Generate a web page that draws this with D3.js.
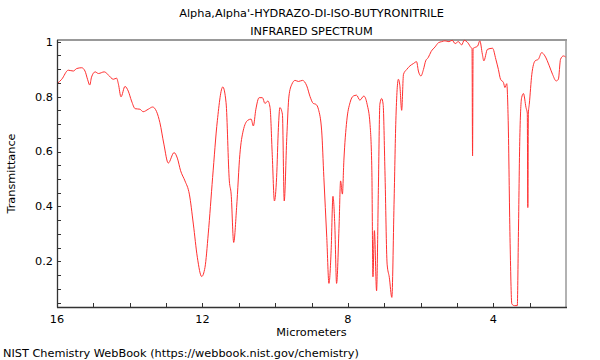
<!DOCTYPE html>
<html>
<head>
<meta charset="utf-8">
<script src="https://cdn.jsdelivr.net/npm/d3@7"></script>
<style>
  html, body { margin: 0; padding: 0; background: #fff; }
  svg { display: block; }
  text { font-family: "DejaVu Sans", sans-serif; fill: #000; }
</style>
</head>
<body>
<svg id="chart" width="600" height="360"></svg>
<script>
const titleLines = ["Alpha,Alpha'-HYDRAZO-DI-ISO-BUTYRONITRILE", "INFRARED SPECTRUM"];
const xLabel = "Micrometers";
const yLabel = "Transmittance";
const footer = "NIST Chemistry WebBook (https://webbook.nist.gov/chemistry)";

const xMajorTicks = [16, 12, 8, 4];
const xMinorTicks = [15, 14, 13, 11, 10, 9, 7, 6, 5, 3];
const yMajorTicks = [0.2, 0.4, 0.6, 0.8, 1];
const yTickLabels = ["0.2", "0.4", "0.6", "0.8", "1"];

const wavelength = [
  16.00, 15.87, 15.69, 15.55, 15.46, 15.32, 15.23, 15.16, 15.10, 15.05,
  14.95, 14.86, 14.70, 14.59, 14.45, 14.36, 14.31, 14.24, 14.13, 14.04,
  13.95, 13.85, 13.72, 13.63, 13.49, 13.37, 13.26, 13.17, 13.06, 12.94,
  12.78, 12.69, 12.60, 12.48, 12.36, 12.25, 12.14, 12.02, 11.93, 11.84,
  11.72, 11.59, 11.44, 11.35, 11.26, 11.21, 11.14, 11.06, 10.97, 10.88,
  10.75, 10.66, 10.60, 10.53, 10.44, 10.35, 10.28, 10.20, 10.14, 10.08,
  10.02, 9.96, 9.91, 9.87, 9.80, 9.75, 9.68, 9.62, 9.54, 9.45,
  9.36, 9.25, 9.13, 9.04, 8.95, 8.88, 8.81, 8.72, 8.66, 8.58,
  8.52, 8.46, 8.41, 8.36, 8.31, 8.24, 8.20, 8.15, 8.11, 8.03,
  7.94, 7.85, 7.76, 7.67, 7.56, 7.47, 7.39, 7.34, 7.31, 7.27,
  7.21, 7.16, 7.12, 7.07, 7.03, 6.98, 6.92, 6.86, 6.79, 6.73,
  6.68, 6.61, 6.57, 6.52, 6.47, 6.38, 6.29, 6.20, 6.11, 6.06,
  5.99, 5.92, 5.86, 5.79, 5.71, 5.60, 5.51, 5.42, 5.33, 5.22,
  5.13, 5.05, 4.96, 4.87, 4.80, 4.70, 4.61, 4.585, 4.57, 4.555,
  4.52, 4.43, 4.37, 4.30, 4.26, 4.16, 4.02, 3.93, 3.86, 3.80,
  3.72, 3.68, 3.63, 3.59, 3.54, 3.49, 3.42, 3.34, 3.31, 3.27,
  3.22, 3.17, 3.10, 3.065, 3.05, 3.035, 3.01, 2.94, 2.85, 2.76,
  2.67, 2.58, 2.46, 2.37, 2.27, 2.21, 2.15, 2.07, 2.01
];
const transmittance = [
  0.847, 0.863, 0.896, 0.893, 0.902, 0.905, 0.893, 0.863, 0.842, 0.871,
  0.890, 0.884, 0.890, 0.879, 0.863, 0.867, 0.845, 0.799, 0.837, 0.820,
  0.784, 0.756, 0.754, 0.745, 0.754, 0.762, 0.745, 0.705, 0.627, 0.558,
  0.596, 0.576, 0.530, 0.493, 0.445, 0.336, 0.215, 0.145, 0.178, 0.300,
  0.505, 0.712, 0.835, 0.778, 0.493, 0.445, 0.269, 0.396, 0.590, 0.675,
  0.714, 0.718, 0.693, 0.754, 0.796, 0.796, 0.775, 0.784, 0.760, 0.590,
  0.420, 0.505, 0.687, 0.760, 0.736, 0.420, 0.651, 0.802, 0.845, 0.859,
  0.855, 0.859, 0.839, 0.800, 0.775, 0.772, 0.754, 0.675, 0.505, 0.287,
  0.120, 0.239, 0.437, 0.336, 0.120, 0.336, 0.493, 0.445, 0.566, 0.712,
  0.778, 0.802, 0.805, 0.787, 0.802, 0.772, 0.699, 0.530, 0.144, 0.312,
  0.093, 0.469, 0.772, 0.793, 0.772, 0.530, 0.190, 0.142, 0.069, 0.408,
  0.712, 0.863, 0.840, 0.750, 0.881, 0.899, 0.912, 0.920, 0.927, 0.893,
  0.875, 0.899, 0.930, 0.942, 0.964, 0.981, 0.996, 1.000, 1.003, 1.000,
  1.005, 0.993, 1.000, 0.988, 1.005, 0.996, 0.978, 0.975, 0.584, 0.975,
  0.978, 0.984, 1.003, 0.954, 0.930, 0.972, 0.976, 0.936, 0.899, 0.863,
  0.851, 0.833, 0.847, 0.712, 0.287, 0.045, 0.039, 0.039, 0.287, 0.651,
  0.796, 0.811, 0.760, 0.740, 0.396, 0.740, 0.772, 0.881, 0.930, 0.936,
  0.960, 0.948, 0.912, 0.881, 0.857, 0.863, 0.936, 0.948, 0.944
];

const svg = d3.select("#chart");
const L = 57, R = 566, T = 40, B = 307;
const FS = "11.3px";

const x = d3.scaleLinear().domain([16, 2.0]).range([L, R]);
const y = d3.scaleLinear().domain([0.034, 1.006]).range([B, T]);

// Title
svg.selectAll("text.title").data(titleLines).enter().append("text")
  .attr("class", "title")
  .attr("x", (L + R) / 2)
  .attr("y", (d, i) => 17 + i * 18)
  .attr("text-anchor", "middle")
  .style("font-size", FS)
  .text(d => d);

// Frame: top and right gray
svg.append("line").attr("x1", L).attr("x2", R + 1).attr("y1", T).attr("y2", T)
  .attr("stroke", "#999").attr("stroke-width", 2);
svg.append("line").attr("x1", R).attr("x2", R).attr("y1", T).attr("y2", B)
  .attr("stroke", "#999").attr("stroke-width", 1.5);

// Line
const line = d3.line()
  .x(d => x(d[0]))
  .y(d => y(d[1]))
  .curve(d3.curveMonotoneX);
const pts = wavelength.map((w, i) => [w, transmittance[i]]);
svg.append("path").datum(pts)
  .attr("d", line)
  .attr("fill", "none")
  .attr("stroke", "#ff3030")
  .attr("stroke-width", 1)
  .attr("stroke-linejoin", "round");

// Y axis (ticks inside)
const yMinor = d3.range(0.05, 1.001, 0.05);
const gy = svg.append("g");
gy.selectAll("line.ymin").data(yMinor).enter().append("line")
  .attr("x1", L).attr("x2", L + 4)
  .attr("y1", d => Math.round(y(d)) + 0.5).attr("y2", d => Math.round(y(d)) + 0.5)
  .attr("stroke", "#333").attr("stroke-width", 1);
gy.selectAll("text").data(yMajorTicks).enter().append("text")
  .attr("x", L - 4)
  .attr("y", d => y(d))
  .attr("dy", "0.35em")
  .attr("text-anchor", "end")
  .style("font-size", FS)
  .text((d, i) => yTickLabels[i]);
svg.append("line").attr("x1", L + 0.5).attr("x2", L + 0.5).attr("y1", T).attr("y2", B + 0.5)
  .attr("stroke", "#333").attr("stroke-width", 1.3);

// X axis (ticks inside)
const gx = svg.append("g");
gx.selectAll("line.xt").data(xMajorTicks.concat(xMinorTicks)).enter().append("line")
  .attr("x1", d => Math.round(x(d)) + 0.5).attr("x2", d => Math.round(x(d)) + 0.5)
  .attr("y1", B).attr("y2", B - 4)
  .attr("stroke", "#333").attr("stroke-width", 1);
gx.selectAll("text").data(xMajorTicks).enter().append("text")
  .attr("x", d => x(d))
  .attr("y", B + 16)
  .attr("text-anchor", "middle")
  .style("font-size", FS)
  .text(d => d);
svg.append("line").attr("x1", L).attr("x2", R + 1).attr("y1", B + 0.5).attr("y2", B + 0.5)
  .attr("stroke", "#333").attr("stroke-width", 1.3);

// Axis labels
svg.append("text").attr("x", (L + R) / 2).attr("y", 336)
  .attr("text-anchor", "middle").style("font-size", FS).text(xLabel);
svg.append("text")
  .attr("transform", `translate(15,${(T + B) / 2}) rotate(-90)`)
  .attr("text-anchor", "middle").style("font-size", FS).text(yLabel);

// Footer
svg.append("text").attr("x", 3).attr("y", 357)
  .style("font-size", FS).text(footer);
</script>
</body>
</html>
